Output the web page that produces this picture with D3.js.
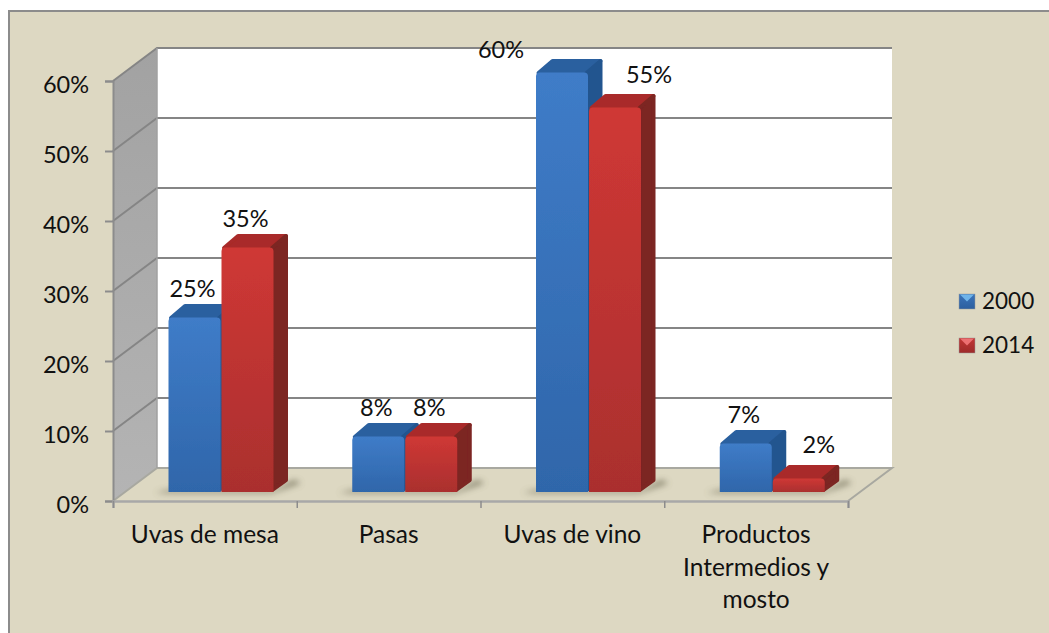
<!DOCTYPE html>
<html><head><meta charset="utf-8">
<script src="https://cdn.jsdelivr.net/npm/d3@7/dist/d3.min.js"></script>
<style>html,body{margin:0;padding:0;background:#fff}svg{display:block}text{font-family:Lato,Carlito,"Open Sans",sans-serif;fill:#111}</style>
</head><body><svg id="c" width="1049" height="633"></svg>
<script>
const categories = ["Uvas de mesa","Pasas","Uvas de vino","Productos\nIntermedios y\nmosto"];
const seriesNames = ["2000","2014"];
const values2000 = [25,8,60,7];
const values2014 = [35,8,55,2];
const yTicks = [0,10,20,30,40,50,60];
const colorSets = [
 {front:["#3f7cc8","#2f66aa"],top:"#2b609f",side:"#24558f",leg:["#3b74ba","#2c5f9f"],hi:"#6fb4ea"},
 {front:["#cf3835","#aa2f2e"],top:"#a92c29",side:"#7c2522",leg:["#c23634","#9d2b2a"],hi:"#ec7072"}
];
const labelShift = {"0-0":[-2,0],"1-0":[-2,0],"0-1":[-2,0],"1-1":[-2,0],"0-2":[-61,6],"1-2":[34,-4],"0-3":[-2,0],"1-3":[20,-5]};

const W=1049,H=633;
const pctSize=23.5, catSize=24.5, legSize=22.5;
const svg=d3.select("#c");
const depth={x:44,y:-33};
const frontX=d3.scaleLinear().domain([0,4]).range([113,848]);
const band=d3.scaleBand().domain(categories).range([113,848]);
const frontY=d3.scaleLinear().domain([0,60]).range([501,81]);
const barBase=492, pxPerUnit=(frontY(0)-frontY(60))/60;
const barY=v=>barBase-v*pxPerUnit;
const barW=53, barStart=55, bd={x:15,y:-13};
const pts=a=>a.map(p=>p.join(",")).join(" ");

const defs=svg.append("defs");
function grad(id,c0,c1,vert=true){
  const g=defs.append("linearGradient").attr("id",id).attr("x1",0).attr("y1",0).attr("x2",vert?0:1).attr("y2",vert?1:0);
  g.append("stop").attr("offset","0%").attr("stop-color",c0);
  g.append("stop").attr("offset","100%").attr("stop-color",c1);
}
colorSets.forEach((c,i)=>{grad("f"+i,c.front[0],c.front[1]);grad("l"+i,c.leg[0],c.leg[1]);});
grad("sideWall","#a2a2a2","#b4b4b4");
defs.append("filter").attr("id","blur").attr("x","-20%").attr("y","-50%").attr("width","140%").attr("height","200%")
  .append("feGaussianBlur").attr("stdDeviation",3);
defs.append("filter").attr("id","soft").attr("x","-5%").attr("y","-5%").attr("width","110%").attr("height","110%")
  .append("feGaussianBlur").attr("stdDeviation",0.6);

// background + frame
svg.append("rect").attr("x",8).attr("y",10).attr("width",W-8).attr("height",H-10).attr("fill","#ddd8c2");
svg.append("path").attr("d",`M9,${H}V11H${W}`).attr("fill","none").attr("stroke","#8c8c8c").attr("stroke-width",2);

// walls
const y0=frontY(0), y60=frontY(60), x0=frontX(0), x1=frontX(4);
svg.append("polygon").attr("points",pts([[x0+depth.x,y60+depth.y],[x1+depth.x,y60+depth.y],[x1+depth.x,y0+depth.y],[x0+depth.x,y0+depth.y]])).attr("fill","#fff");
svg.append("polygon").attr("points",pts([[x0,y60],[x0+depth.x,y60+depth.y],[x0+depth.x,y0+depth.y],[x0,y0]])).attr("fill","url(#sideWall)");
svg.append("polygon").attr("points",pts([[x0,y0],[x0+depth.x,y0+depth.y],[x1+depth.x,y0+depth.y],[x1,y0]])).attr("fill","#ddd8c2");

// gridlines
const grid=svg.append("g").attr("fill","none").attr("stroke","#858585").attr("stroke-width",2);
yTicks.forEach(t=>{
  const y=frontY(t);
  if(t>0) grid.append("polyline").attr("points",pts([[x0,y],[x0+depth.x,y+depth.y],[x1+depth.x,y+depth.y]]));
});
svg.append("polyline").attr("points",pts([[x0,y0],[x0+depth.x,y0+depth.y],[x1+depth.x,y0+depth.y],[x1,y0]]))
  .attr("fill","none").attr("stroke","#a8a8a0").attr("stroke-width",2);
svg.append("line").attr("x1",x0+depth.x).attr("x2",x0+depth.x).attr("y1",y60+depth.y).attr("y2",y0+depth.y).attr("stroke","#a0a0a0").attr("stroke-width",1.5);

// y axis
const yAxis=svg.append("g").attr("transform",`translate(${x0},0)`).call(
  d3.axisLeft(frontY).tickValues(yTicks).tickFormat(d=>d+"%").tickSize(8).tickPadding(16));
yAxis.select(".domain").attr("stroke","#8c8c8c").attr("stroke-width",2);
yAxis.selectAll("line").attr("stroke","#8c8c8c").attr("stroke-width",2);
yAxis.selectAll("text").attr("font-size",pctSize).attr("dy","0.48em").attr("fill","#111").style("font-family","Lato,Carlito,sans-serif");

// x axis: ticks at category boundaries
const xAxis=svg.append("g").attr("transform",`translate(0,${y0})`).call(
  d3.axisBottom(frontX).tickValues([0,1,2,3,4]).tickFormat("").tickSize(7));
xAxis.select(".domain").attr("stroke","#a8a8a8").attr("stroke-width",2.5);
xAxis.selectAll("line").attr("stroke","#8c8c8c").attr("stroke-width",1.5);

// category labels
const catG=svg.append("g").attr("text-anchor","middle").attr("font-size",catSize);
categories.forEach(c=>{
  const t=catG.append("text").attr("x",band(c)+band.bandwidth()/2).attr("y",543);
  c.split("\n").forEach((l,i)=>t.append("tspan").attr("x",band(c)+band.bandwidth()/2).attr("dy",i?32.5:0).text(l));
});

// bars
const groups=categories.map((c,i)=>({c,i,vals:[values2000[i],values2014[i]]}));
const gBars=svg.append("g");
groups.forEach(g=>{
  const gx=band(g.c)+barStart;
  gBars.append("polygon").attr("filter","url(#blur)").attr("fill","#6b6650").attr("opacity",0.75)
    .attr("points",pts([[gx-13,barBase+1],[gx+2*barW-2,barBase+1],[gx+2*barW+bd.x+12,barBase+bd.y+4],[gx+2*barW+bd.x+5,barBase+bd.y+1],[gx+2*barW,barBase-2],[gx,barBase-2]]));
});
const gSolid=gBars.append("g").attr("filter","url(#soft)");
groups.forEach(g=>{
  const gx=band(g.c)+barStart;
  g.vals.forEach((v,s)=>{
    const x=gx+s*barW, y=barY(v), c=colorSets[s], b=gSolid.append("g").attr("stroke-linejoin","round").attr("stroke-width",4);
    b.append("polygon").attr("points",pts([[x+3,y+1],[x+2+bd.x,y+bd.y+2],[x+barW-3+bd.x,y+bd.y+2],[x+barW-3,y+1]])).attr("fill",c.top).attr("stroke",c.top);
    b.append("polygon").attr("points",pts([[x+barW-2,y+1],[x+barW-3+bd.x,y+bd.y+2],[x+barW-3+bd.x,barBase+bd.y+1],[x+barW-2,barBase-2]])).attr("fill",c.side).attr("stroke",c.side);
    const l=x+0.5, r=x+barW-0.5, t=y+0.5, rad=Math.min(4,(barBase-t)/2);
    b.append("path").attr("d",`M${l},${barBase}V${t+rad}Q${l},${t} ${l+rad},${t}H${r-rad}Q${r},${t} ${r},${t+rad}V${barBase}Z`)
      .attr("fill",`url(#f${s})`).attr("stroke","none");
  });
});

// data labels
const lab=svg.append("g").attr("text-anchor","middle").attr("font-size",pctSize);
groups.forEach(g=>{
  const gx=band(g.c)+barStart;
  g.vals.forEach((v,s)=>{
    const sh=labelShift[s+"-"+g.i];
    lab.append("text").attr("x",gx+s*barW+barW/2+sh[0]).attr("y",barY(v)-28+sh[1]).attr("dy","0.35em").text(v+"%");
  });
});

// legend
const legY=d3.scalePoint().domain(seriesNames).range([301.5,345.5]);
seriesNames.forEach((n,i)=>{
  const y=legY(n);
  svg.append("rect").attr("x",959).attr("y",y-7.5).attr("width",16).attr("height",15).attr("fill",`url(#l${i})`).attr("stroke","#9a9a9a").attr("stroke-width",0.5);
  svg.append("polygon").attr("points",pts([[960,y-7],[974,y-7],[967,y]])).attr("fill",colorSets[i].hi);
  svg.append("text").attr("x",982).attr("y",y+7.5).attr("font-size",legSize).text(n);
});
</script></body></html>
